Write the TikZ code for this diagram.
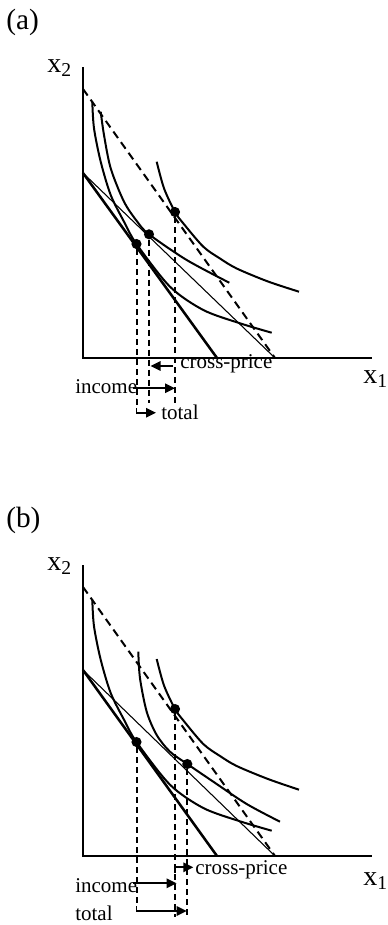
\documentclass[tikz,border=0pt]{standalone}
\usepackage{fontspec}
\setmainfont{Liberation Serif}
\usetikzlibrary{arrows.meta}

\begin{document}
\begin{tikzpicture}[
    x=0.75pt, y=0.75pt,
    font=\fontsize{15.75}{18}\selectfont,
    axis/.style = {draw, line width=1.6pt},
    budget/.style = {draw, line width=1.9pt},
    budget_thin/.style = {draw, line width=0.8pt},
    budget_new/.style = {draw, line width=1.5pt, dash pattern=on 6pt off 3.8pt},
    indiff/.style = {draw, line width=1.5pt},
    drop/.style = {draw, line width=1.5pt, dash pattern=on 4.5pt off 3pt},
    effect/.style = {draw, line width=1.4pt, -{Triangle[length=7.5pt, width=7pt]}},
    dot/.style = {circle, fill=black, inner sep=0pt, minimum size=7.6pt},
    txt/.style = {anchor=base west, inner sep=0pt},
    axlabel/.style = {anchor=base west, inner sep=0pt, font=\fontsize{21}{25}\selectfont}
]
\useasboundingbox (0,0) rectangle (387,-925);

% Panel (a)
\begin{scope}[shift={(83,-358)}]
    % Axes
    \coordinate (a_o) at (0,0);
    \coordinate (a_ytop) at (0,291);
    \coordinate (a_xend) at (289,0);
    \path[axis] (a_ytop) -- (a_o) -- (a_xend);
    \node[axlabel] (a_x2) at (-36,286) {x\textsubscript{2}};
    \node[axlabel] (a_x1) at (280,-25) {x\textsubscript{1}};
    \node[axlabel, font=\fontsize{22}{26}\selectfont] (a_tag) at (-77,329) {(a)};

    % Budget lines
    \coordinate (a_b0) at (0,185);
    \coordinate (a_b1) at (0,269);
    \coordinate (a_bx0) at (134,0);
    \coordinate (a_bx1) at (192,0);
    \path[budget] (a_b0) -- (a_bx0);
    \path[budget_thin] (a_b0) -- (a_bx1);
    \path[budget_new] (a_b1) -- (a_bx1);

    % Indifference curves
    \path[indiff] plot[smooth] coordinates {(9.3,256.3) (11,229.7) (17.7,196.3) (27.7,163) (41,136.3) (53.5,114) (87,71.3) (120.3,48) (157,34.7) (188.7,25.3)};
    \path[indiff] plot[smooth] coordinates {(17.7,246.3) (21,223) (27.7,189.7) (41,156.3) (54.3,136.3) (66,123.7) (103.7,98) (146.3,75.3)};
    \path[indiff] plot[smooth] coordinates {(73.7,196.3) (81,169.7) (92,146) (100,135) (120.3,111.3) (137,99.5) (153.7,89.5) (185,76.5) (216,66.3)};

    % Optima
    \node[dot] (a_dot1) at (53.5,114) {};
    \node[dot] (a_dot2) at (66,123.7) {};
    \node[dot] (a_dot3) at (92,146) {};

    \coordinate (a_foot1) at (53.5,-50);
    \coordinate (a_foot2) at (66,-45);
    \coordinate (a_foot3) at (92,-46);
    \path[drop] (a_dot1) -- (a_foot1);
    \path[drop] (a_dot2) -- (a_foot2);
    \path[drop] (a_dot3) -- (a_foot3);

    % Effects
    \node[txt] (a_cp) at (97,-10) {cross-price};
    \node[txt] (a_inc) at (-8,-35) {income};
    \node[txt] (a_tot) at (78,-61) {total};

    \coordinate (a_cp_s) at (90,-8);
    \coordinate (a_cp_e) at (67.5,-8);
    \coordinate (a_inc_s) at (50,-30.3);
    \coordinate (a_inc_e) at (92,-30.3);
    \coordinate (a_tot_e) at (73,-54.7);
    \path[effect] (a_cp_s) -- (a_cp_e);
    \path[effect] (a_inc_s) -- (a_inc_e);
    \path[effect] (a_foot1) |- (a_tot_e);
\end{scope}

% Panel (b)
\begin{scope}[shift={(83,-856)}]
    % Axes
    \coordinate (b_o) at (0,0);
    \coordinate (b_ytop) at (0,291);
    \coordinate (b_xend) at (289,0);
    \path[axis] (b_ytop) -- (b_o) -- (b_xend);
    \node[axlabel] (b_x2) at (-36,286) {x\textsubscript{2}};
    \node[axlabel] (b_x1) at (280,-29.5) {x\textsubscript{1}};
    \node[axlabel, font=\fontsize{22}{26}\selectfont] (b_tag) at (-77,329) {(b)};

    % Budget lines
    \coordinate (b_b0) at (0,186);
    \coordinate (b_b1) at (0,269);
    \coordinate (b_bx0) at (134,0);
    \coordinate (b_bx1) at (192,0);
    \path[budget] (b_b0) -- (b_bx0);
    \path[budget_thin] (b_b0) -- (b_bx1);
    \path[budget_new] (b_b1) -- (b_bx1);

    % Indifference curves
    \path[indiff] plot[smooth] coordinates {(9.3,256.3) (11,229.7) (17.7,196.3) (27.7,163) (41,136.3) (53.5,114) (87,71.3) (120.3,48) (157,34.7) (188.7,25.3)};
    \path[indiff] plot[smooth] coordinates {(55.3,204.3) (57,177.7) (63.7,144.3) (73.7,121) (87,104.3) (104.3,92) (130.3,74.3) (163.7,52) (197,34.3)};
    \path[indiff] plot[smooth] coordinates {(73.7,197) (81,170.5) (92,147) (100,136) (120.3,112) (137,100) (153.7,90) (185,77) (216,66.3)};

    % Optima
    \node[dot] (b_dot1) at (53.5,114) {};
    \node[dot] (b_dot2) at (104.3,92) {};
    \node[dot] (b_dot3) at (92,147) {};

    \coordinate (b_foot1) at (53.5,-50);
    \coordinate (b_foot2) at (104.3,-60.7);
    \coordinate (b_foot3) at (92,-60.7);
    \path[drop] (b_dot1) -- (b_foot1);
    \path[drop] (b_dot2) -- (b_foot2);
    \path[drop] (b_dot3) -- (b_foot3);

    % Effects
    \node[txt] (b_cp) at (112,-18) {cross-price};
    \node[txt] (b_inc) at (-8,-36) {income};
    \node[txt] (b_tot) at (-8,-64) {total};

    \coordinate (b_cp_s) at (92,-17);
    \coordinate (b_cp_e) at (110.3,-11.3);
    \coordinate (b_inc_s) at (50,-27.3);
    \coordinate (b_inc_e) at (93.7,-27.3);
    \coordinate (b_tot_e) at (103.7,-55);
    \path[effect] (b_cp_s) |- (b_cp_e);
    \path[effect] (b_inc_s) -- (b_inc_e);
    \path[effect] (b_foot1) |- (b_tot_e);
\end{scope}

\end{tikzpicture}
\end{document}
